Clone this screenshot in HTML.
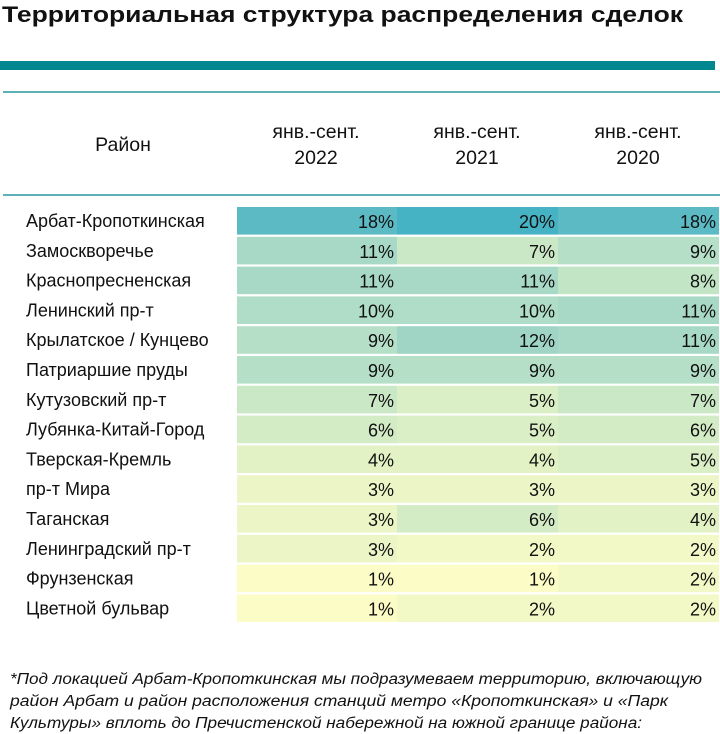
<!DOCTYPE html><html><head><meta charset="utf-8"><style>body{margin:0;background:#fff}svg{display:block}</style></head><body>
<svg width="720" height="734" xmlns="http://www.w3.org/2000/svg" font-family="Liberation Sans, sans-serif">
<text x="2" y="22" font-size="22" font-weight="bold" textLength="681" lengthAdjust="spacingAndGlyphs" fill="#111">Территориальная структура распределения сделок</text>
<rect x="0" y="61" width="715" height="9" fill="#00878f"/>
<rect x="3" y="91" width="717" height="2" fill="#5fb0b6"/>
<rect x="3" y="194" width="717" height="2" fill="#5fb0b6"/>
<g font-size="19.5" fill="#111" text-anchor="middle">
<text x="123" y="151">Район</text>
<text x="316" y="138">янв.-сент.</text><text x="316" y="164">2022</text>
<text x="477" y="138">янв.-сент.</text><text x="477" y="164">2021</text>
<text x="638" y="138">янв.-сент.</text><text x="638" y="164">2020</text>
</g>
<g font-size="18" fill="#111">
<g transform="translate(0,207)"><rect x="237" width="160" height="27.6" fill="#5bbac4"/><rect x="397" width="161" height="27.6" fill="#45b3c3"/><rect x="558" width="161" height="27.6" fill="#5bbac4"/><text x="26" y="20">Арбат-Кропоткинская</text><g text-anchor="end" font-size="18"><text x="394" y="21">18%</text><text x="555" y="21">20%</text><text x="716" y="21">18%</text></g></g>
<g transform="translate(0,236.8)"><rect x="237" width="160" height="27.6" fill="#a8d9c6"/><rect x="397" width="161" height="27.6" fill="#cbe8c6"/><rect x="558" width="161" height="27.6" fill="#b5dfc7"/><text x="26" y="20">Замоскворечье</text><g text-anchor="end" font-size="18"><text x="394" y="21">11%</text><text x="555" y="21">7%</text><text x="716" y="21">9%</text></g></g>
<g transform="translate(0,266.6)"><rect x="237" width="160" height="27.6" fill="#a8d9c6"/><rect x="397" width="161" height="27.6" fill="#a8d9c6"/><rect x="558" width="161" height="27.6" fill="#c2e5c6"/><text x="26" y="20">Краснопресненская</text><g text-anchor="end" font-size="18"><text x="394" y="21">11%</text><text x="555" y="21">11%</text><text x="716" y="21">8%</text></g></g>
<g transform="translate(0,296.4)"><rect x="237" width="160" height="27.6" fill="#b0ddc7"/><rect x="397" width="161" height="27.6" fill="#b0ddc7"/><rect x="558" width="161" height="27.6" fill="#a8d9c6"/><text x="26" y="20">Ленинский пр-т</text><g text-anchor="end" font-size="18"><text x="394" y="21">10%</text><text x="555" y="21">10%</text><text x="716" y="21">11%</text></g></g>
<g transform="translate(0,326.2)"><rect x="237" width="160" height="27.6" fill="#b5dfc7"/><rect x="397" width="161" height="27.6" fill="#a0d5c6"/><rect x="558" width="161" height="27.6" fill="#a8d9c6"/><text x="26" y="20">Крылатское / Кунцево</text><g text-anchor="end" font-size="18"><text x="394" y="21">9%</text><text x="555" y="21">12%</text><text x="716" y="21">11%</text></g></g>
<g transform="translate(0,356)"><rect x="237" width="160" height="27.6" fill="#b5dfc7"/><rect x="397" width="161" height="27.6" fill="#b5dfc7"/><rect x="558" width="161" height="27.6" fill="#b5dfc7"/><text x="26" y="20">Патриаршие  пруды</text><g text-anchor="end" font-size="18"><text x="394" y="21">9%</text><text x="555" y="21">9%</text><text x="716" y="21">9%</text></g></g>
<g transform="translate(0,385.8)"><rect x="237" width="160" height="27.6" fill="#cbe8c6"/><rect x="397" width="161" height="27.6" fill="#dbefc6"/><rect x="558" width="161" height="27.6" fill="#cbe8c6"/><text x="26" y="20">Кутузовский пр-т</text><g text-anchor="end" font-size="18"><text x="394" y="21">7%</text><text x="555" y="21">5%</text><text x="716" y="21">7%</text></g></g>
<g transform="translate(0,415.6)"><rect x="237" width="160" height="27.6" fill="#d3ecc6"/><rect x="397" width="161" height="27.6" fill="#dbefc6"/><rect x="558" width="161" height="27.6" fill="#d3ecc6"/><text x="26" y="20">Лубянка-Китай-Город</text><g text-anchor="end" font-size="18"><text x="394" y="21">6%</text><text x="555" y="21">5%</text><text x="716" y="21">6%</text></g></g>
<g transform="translate(0,445.4)"><rect x="237" width="160" height="27.6" fill="#e3f2c5"/><rect x="397" width="161" height="27.6" fill="#e3f2c5"/><rect x="558" width="161" height="27.6" fill="#dbefc6"/><text x="26" y="20">Тверская-Кремль</text><g text-anchor="end" font-size="18"><text x="394" y="21">4%</text><text x="555" y="21">4%</text><text x="716" y="21">5%</text></g></g>
<g transform="translate(0,475.2)"><rect x="237" width="160" height="27.6" fill="#ecf5c6"/><rect x="397" width="161" height="27.6" fill="#ecf5c6"/><rect x="558" width="161" height="27.6" fill="#ecf5c6"/><text x="26" y="20">пр-т Мира</text><g text-anchor="end" font-size="18"><text x="394" y="21">3%</text><text x="555" y="21">3%</text><text x="716" y="21">3%</text></g></g>
<g transform="translate(0,505)"><rect x="237" width="160" height="27.6" fill="#ecf5c6"/><rect x="397" width="161" height="27.6" fill="#d3ecc6"/><rect x="558" width="161" height="27.6" fill="#e3f2c5"/><text x="26" y="20">Таганская</text><g text-anchor="end" font-size="18"><text x="394" y="21">3%</text><text x="555" y="21">6%</text><text x="716" y="21">4%</text></g></g>
<g transform="translate(0,534.8)"><rect x="237" width="160" height="27.6" fill="#ecf5c6"/><rect x="397" width="161" height="27.6" fill="#f3f9c6"/><rect x="558" width="161" height="27.6" fill="#f3f9c6"/><text x="26" y="20">Ленинградский пр-т</text><g text-anchor="end" font-size="18"><text x="394" y="21">3%</text><text x="555" y="21">2%</text><text x="716" y="21">2%</text></g></g>
<g transform="translate(0,564.6)"><rect x="237" width="160" height="27.6" fill="#fbfcc6"/><rect x="397" width="161" height="27.6" fill="#fbfcc6"/><rect x="558" width="161" height="27.6" fill="#f3f9c6"/><text x="26" y="20">Фрунзенская</text><g text-anchor="end" font-size="18"><text x="394" y="21">1%</text><text x="555" y="21">1%</text><text x="716" y="21">2%</text></g></g>
<g transform="translate(0,594.4)"><rect x="237" width="160" height="27.6" fill="#fbfcc6"/><rect x="397" width="161" height="27.6" fill="#f3f9c6"/><rect x="558" width="161" height="27.6" fill="#f3f9c6"/><text x="26" y="20">Цветной бульвар</text><g text-anchor="end" font-size="18"><text x="394" y="21">1%</text><text x="555" y="21">2%</text><text x="716" y="21">2%</text></g></g>
</g>
<g font-size="15.5" font-style="italic" fill="#111">
<text x="10" y="684" textLength="692" lengthAdjust="spacingAndGlyphs">*Под локацией Арбат-Кропоткинская мы подразумеваем территорию, включающую</text>
<text x="10" y="706" textLength="658" lengthAdjust="spacingAndGlyphs">район Арбат и район расположения станций метро «Кропоткинская» и «Парк</text>
<text x="10" y="728" textLength="632" lengthAdjust="spacingAndGlyphs">Культуры» вплоть до Пречистенской набережной на южной границе района:</text>
</g>
</svg></body></html>
